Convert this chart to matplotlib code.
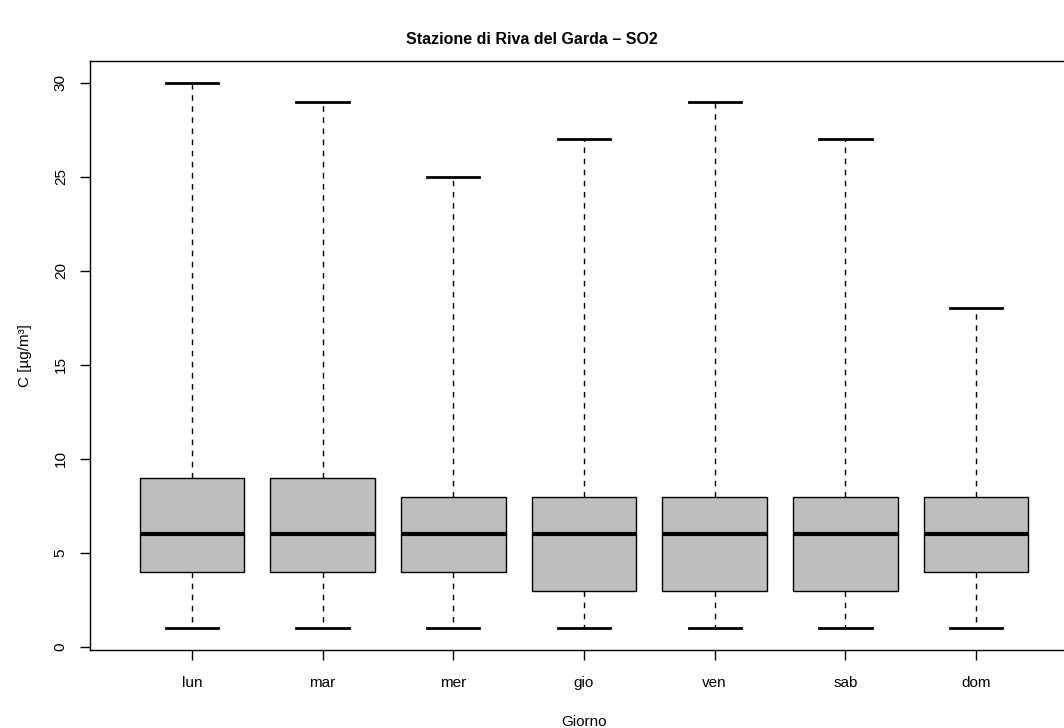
import matplotlib
matplotlib.use("Agg")
import matplotlib.pyplot as plt

plt.rcParams['font.family'] = ['Liberation Sans', 'DejaVu Sans']

# data
giorni = ["lun", "mar", "mer", "gio", "ven", "sab", "dom"]
whislo = [1, 1, 1, 1, 1, 1, 1]
q1 = [4, 4, 4, 3, 3, 3, 4]
med = [6, 6, 6, 6, 6, 6, 6]
q3 = [9, 9, 8, 8, 8, 8, 8]
whishi = [30, 29, 25, 27, 29, 27, 18]

stats = []
for g, lo, a, m, b, hi in zip(giorni, whislo, q1, med, q3, whishi):
    stats.append({"label": g, "whislo": lo, "q1": a, "med": m, "q3": b,
                  "whishi": hi, "fliers": []})

fig = plt.figure(figsize=(10.64, 7.28), dpi=100)
ax = fig.add_axes([90 / 1064, 78 / 728, 988 / 1064, 589 / 728])

ax.bxp(stats, positions=range(1, 8), widths=0.8, patch_artist=True,
       showfliers=False,
       boxprops=dict(facecolor="#bebebe", edgecolor="black", linewidth=1),
       medianprops=dict(color="black", linewidth=3, solid_capstyle="butt"),
       whiskerprops=dict(color="black", linewidth=1, linestyle=(0, (4, 4))),
       capprops=dict(color="black", linewidth=2),
       capwidths=0.4)

ax.set_xlim(0.22, 7.78)
ax.set_ylim(-0.16, 31.16)
ax.set_yticks([0, 5, 10, 15, 20, 25, 30])
ax.set_xticks(range(1, 8))
ax.set_xticklabels(giorni)
for lab in ax.get_yticklabels():
    lab.set_rotation(90)
    lab.set_va("center")
ax.tick_params(axis="both", length=7, width=1, labelsize=11)
ax.tick_params(axis="x", pad=12)
ax.tick_params(axis="y", pad=9)
for s in ax.spines.values():
    s.set_linewidth(1)

ax.set_xlabel("Giorno", fontsize=11, labelpad=18)
ax.set_ylabel("C [µg/m³]", fontsize=11, labelpad=16)
fig.text(0.5, 1 - 39 / 728, "Stazione di Riva del Garda \u2013 SO2",
         ha="center", va="center", fontsize=11.5, fontweight="bold")

fig.savefig("out.png", dpi=100)
